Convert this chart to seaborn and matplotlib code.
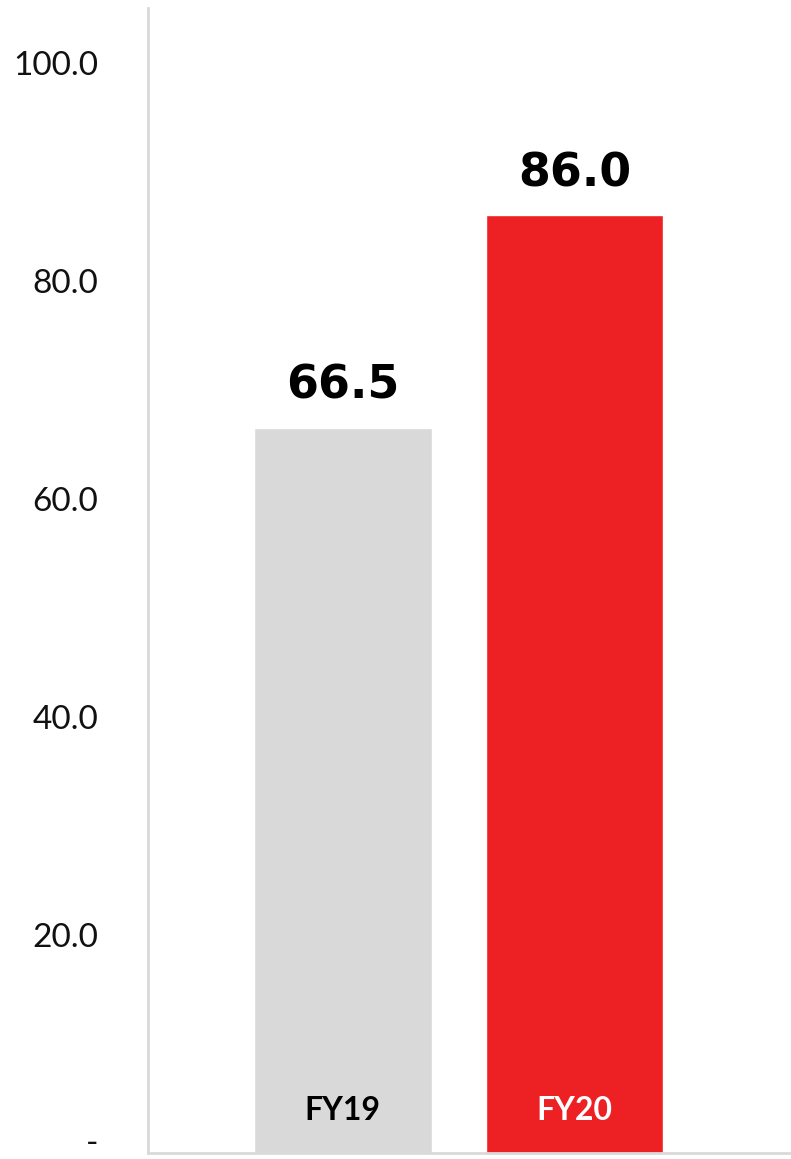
import matplotlib
matplotlib.use("Agg")
import matplotlib.pyplot as plt
import matplotlib.transforms as mtransforms
import seaborn as sns
import pandas as pd

categories = ["FY19", "FY20"]
values = [66.5, 86.0]
bar_colors = ["#D9D9D9", "#ED2124"]
label_colors = ["#000000", "#FFFFFF"]
yticks = [0, 20, 40, 60, 80, 100]
ytick_labels = ["-", "20.0", "40.0", "60.0", "80.0", "100.0"]

sns.set_style("white")
plt.rcParams['font.family'] = ['Lato', 'DejaVu Sans']

df = pd.DataFrame({"cat": categories, "val": values})

fig = plt.figure(figsize=(7.91, 11.59), dpi=100)
ax = fig.add_axes([148/791, 6/1159, 1 - 148/791 - 1/791, 1 - 6/1159 - 8/1159])

sns.barplot(data=df, x="cat", y="val", hue="cat", palette=bar_colors,
            width=0.767, legend=False, ax=ax, saturation=1)

ax.set_xlim(-0.84, 1.93)
ax.set_ylim(0, 105)
ax.set_yticks(yticks)
ax.set_yticklabels(ytick_labels, fontsize=24, color="#111111")
ax.tick_params(axis='y', length=0, pad=36)
ax.set_xticks([])
ax.set_xlabel("")
ax.set_ylabel("")

# keep the "-" label inside the canvas
zero_lab = ax.get_yticklabels()[0]
zero_lab.set_va("bottom")
zero_lab.set_transform(zero_lab.get_transform() +
                       mtransforms.ScaledTranslation(0, -4/72, fig.dpi_scale_trans))

for s in ["top", "right"]:
    ax.spines[s].set_visible(False)
for s in ["left", "bottom"]:
    ax.spines[s].set_color("#D9D9D9")
    ax.spines[s].set_linewidth(2)

for i, (c, v) in enumerate(zip(categories, values)):
    ax.annotate(f"{v:.1f}", xy=(i, v), xytext=(0, 21), textcoords="offset points",
                ha="center", va="baseline", fontsize=33, fontweight="bold",
                color="black", family=["DejaVu Sans"])
    ax.text(i, 3.9, c, ha="center", va="center", fontsize=23,
            fontweight="bold", color=label_colors[i])

fig.savefig("out.png", dpi=100)
